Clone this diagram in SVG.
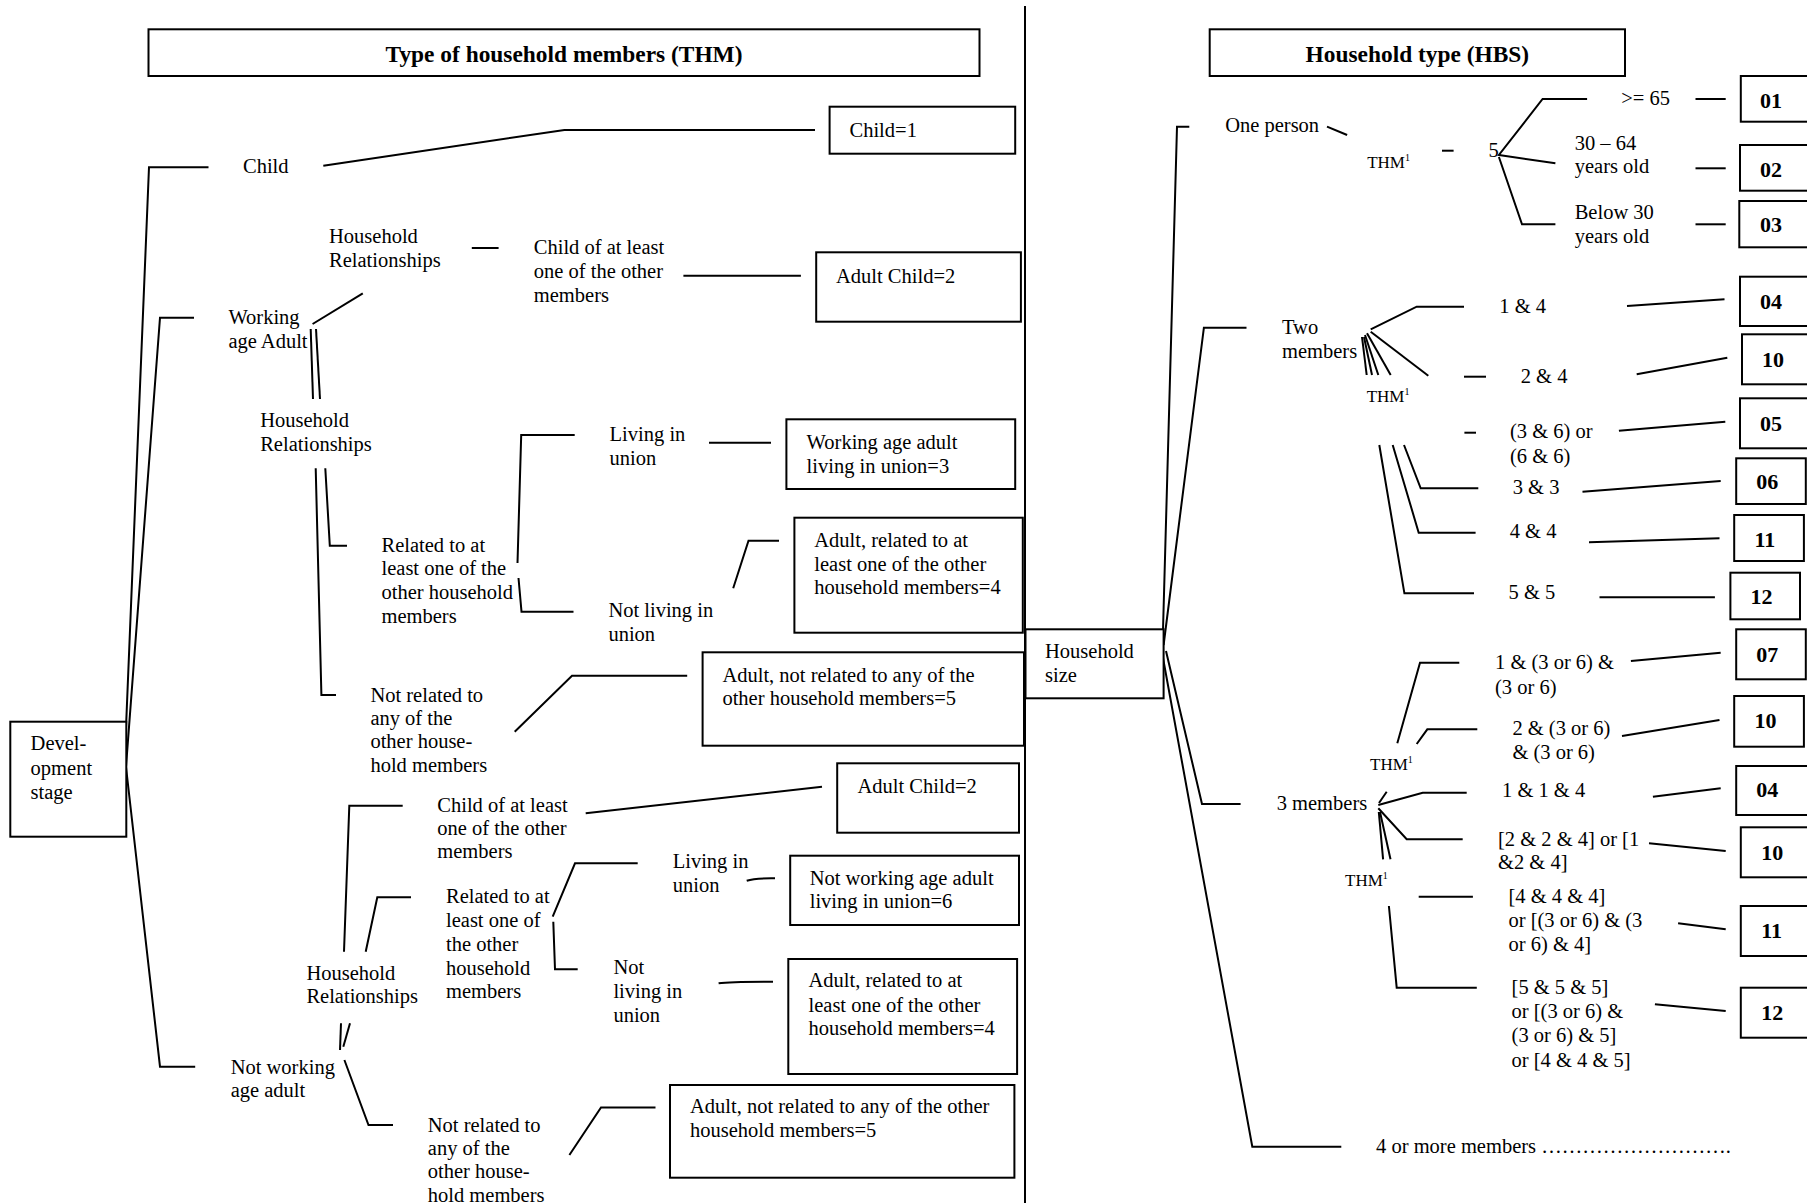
<svg xmlns="http://www.w3.org/2000/svg" width="1807" height="1203" viewBox="0 0 1807 1203">
<style>
text{font-family:"Liberation Serif","Times New Roman",serif;font-size:20.5px;fill:#000}
.b{font-weight:bold;font-size:22px}
.h{font-weight:bold;font-size:23.4px}
.s{font-size:17px}
.sup{font-size:10px}
.bx{fill:#fff;stroke:#000;stroke-width:2}
.ln{fill:none;stroke:#000;stroke-width:2}
</style>
<rect width="1807" height="1203" fill="#fff"/>
<g id="connectors" class="ln">
<polyline points="208.5,167.3 149,167.3 124.4,766.7"/>
<polyline points="194,317.7 160,317.7 126,766.7"/>
<polyline points="126,767 160,1066.7 195.2,1066.7"/>
<polyline points="323.3,165.7 564.4,130 815,130"/>
<polyline points="312.6,324 362.8,293.3"/>
<polyline points="310.7,329 313,399"/>
<polyline points="316,329 320,399"/>
<polyline points="471.8,248 498.6,248"/>
<polyline points="683.4,275.7 800.9,275.7"/>
<polyline points="315.7,468.3 321.4,695 336,695"/>
<polyline points="325.3,468.3 329.8,545.7 347,545.7"/>
<polyline points="574.7,435 521.2,435 517.5,563"/>
<polyline points="518.5,578 521.5,611.7 573.5,611.7"/>
<polyline points="709,442.7 771,442.7"/>
<polyline points="733.2,588.3 748.5,540.7 779,540.7"/>
<polyline points="514.7,731.7 572,675.7 687.2,675.7"/>
<polyline points="344,951.7 349.3,805.7 402.7,805.7"/>
<polyline points="365.7,951.7 377.3,897.3 411,897.3"/>
<polyline points="585.7,813.3 822,786.7"/>
<polyline points="552.7,916.7 575,863.3 637.7,863.3"/>
<polyline points="553.3,921.7 555,969.3 577.7,969.3"/>
<path d="M746.7,880.7 Q755,878 775,878.3"/>
<path d="M718.6,983.3 Q730,981.5 773,981.7"/>
<polyline points="340,1050 341,1023.3"/>
<polyline points="343.3,1046.7 350,1023.3"/>
<polyline points="344.4,1060 368.5,1125 393,1125"/>
<polyline points="569.4,1155 601,1107.5 655.5,1107.5"/>
<line x1="1025" y1="6" x2="1025" y2="1203"/>
<polyline points="1189.3,126.7 1177,126.7 1162.5,648"/>
<polyline points="1246.5,327.7 1203.9,327.7 1163.6,645"/>
<polyline points="1166,651 1202,804 1240.6,804"/>
<polyline points="1163,658 1252.3,1146.7 1341.3,1146.7"/>
<polyline points="1327,126.7 1347.1,135"/>
<polyline points="1442,150.7 1453.6,150.7"/>
<polyline points="1587.1,99 1542.6,99 1498.9,155 1555.4,163.3"/>
<polyline points="1498.9,157 1522,224.3 1555.4,224.3"/>
<polyline points="1695.5,99 1725.7,99"/>
<polyline points="1695.5,168.3 1725.7,168.3"/>
<polyline points="1695.5,224.3 1725.7,224.3"/>
<polyline points="1370.7,329.3 1416.7,306.7 1464,306.7"/>
<polyline points="1370.7,331.7 1428.3,375.7"/>
<polyline points="1464,376.7 1486,376.7"/>
<polyline points="1362,337 1366.7,375"/>
<polyline points="1364,337 1372,375"/>
<polyline points="1365,335 1378.3,375"/>
<polyline points="1367,333.3 1390.7,375"/>
<polyline points="1404,445 1420.7,488.3 1478.3,488.3"/>
<polyline points="1392.7,445 1418.7,532.7 1475.6,532.7"/>
<polyline points="1379.3,445 1404.4,593.3 1474,593.3"/>
<polyline points="1464.4,432.7 1476,432.7"/>
<polyline points="1627,306 1724.5,299.3"/>
<polyline points="1636.7,374.3 1727.3,357.7"/>
<polyline points="1618.9,430.7 1725.3,421.7"/>
<polyline points="1582.5,491.7 1720.7,481"/>
<polyline points="1589,542.3 1719.5,538.3"/>
<polyline points="1599.5,597.3 1714.9,597.3"/>
<polyline points="1378.3,805 1422.7,792.7 1466.7,792.7"/>
<polyline points="1378.3,808.3 1406.7,839.3 1462.7,839.3"/>
<polyline points="1379,803 1386.7,791.7"/>
<polyline points="1378.8,812 1383.1,859.3"/>
<polyline points="1380,812 1390.5,859.3"/>
<polyline points="1397.3,743.3 1420,662.7 1459.3,662.7"/>
<polyline points="1416.7,744 1427.3,729.3 1477.3,729.3"/>
<polyline points="1418.7,896.7 1472.9,896.7"/>
<polyline points="1388.9,906 1396.7,987.7 1476.8,987.7"/>
<polyline points="1630.9,661 1720.7,652.7"/>
<polyline points="1622,736 1719.5,720"/>
<polyline points="1652.9,796.7 1720.7,788.3"/>
<polyline points="1649,843.3 1725.7,851"/>
<polyline points="1678.1,923.3 1725.7,929.3"/>
<polyline points="1654.9,1004.3 1725.7,1011"/>
</g>
<g id="title-thm"><rect class="bx" x="148.5" y="29.3" width="831" height="46.7"/><text class="h" x="564" y="62" text-anchor="middle">Type of household members (THM)</text></g>
<g id="child"><text x="243" y="173">Child</text></g>
<g id="child1"><rect class="bx" x="829.6" y="106.7" width="185.6" height="47"/><text x="849.5" y="136.7">Child=1</text></g>
<g id="working"><text x="228.4" y="324">Working</text><text x="228.4" y="347.7">age Adult</text></g>
<g id="hr1"><text x="329" y="242.7">Household</text><text x="329" y="266.7">Relationships</text></g>
<g id="childof1"><text x="533.8" y="254">Child of at least</text><text x="533.8" y="278">one of the other</text><text x="533.8" y="301.7">members</text></g>
<g id="adultchild2a"><rect class="bx" x="816.2" y="252.3" width="204.7" height="69.4"/><text x="836" y="282.7">Adult Child=2</text></g>
<g id="hr2"><text x="260.2" y="426.7">Household</text><text x="260.2" y="450.7">Relationships</text></g>
<g id="related1"><text x="381.5" y="551.7">Related to at</text><text x="381.5" y="575">least one of the</text><text x="381.5" y="599">other household</text><text x="381.5" y="622.7">members</text></g>
<g id="living1"><text x="609.6" y="440.7">Living in</text><text x="609.6" y="465">union</text></g>
<g id="box3"><rect class="bx" x="786.4" y="419.3" width="228.8" height="69.7"/><text x="806.6" y="449">Working age adult</text><text x="806.6" y="472.7">living in union=3</text></g>
<g id="notliving1"><text x="608.4" y="617.3">Not living in</text><text x="608.4" y="640.7">union</text></g>
<g id="box4a"><rect class="bx" x="794.4" y="517.7" width="228.4" height="115"/><text x="814.3" y="546.7">Adult, related to at</text><text x="814.3" y="570.7">least one of the other</text><text x="814.3" y="594">household members=4</text></g>
<g id="notrelated1"><text x="370.4" y="701.7">Not related to</text><text x="370.4" y="725">any of the</text><text x="370.4" y="748.3">other house-</text><text x="370.4" y="772.3">hold members</text></g>
<g id="box5a"><rect class="bx" x="702.6" y="652.3" width="321.4" height="93.4"/><text x="722.4" y="681.7">Adult, not related to any of the</text><text x="722.4" y="705">other household members=5</text></g>
<g id="devel"><rect class="bx" x="10.3" y="721.7" width="116" height="115"/><text x="30.6" y="750">Devel-</text><text x="30.6" y="775">opment</text><text x="30.6" y="799">stage</text></g>
<g id="notworking"><text x="230.7" y="1074">Not working</text><text x="230.7" y="1097.3">age adult</text></g>
<g id="hr3"><text x="306.4" y="979.7">Household</text><text x="306.4" y="1003.3">Relationships</text></g>
<g id="childof2"><text x="437.3" y="811.7">Child of at least</text><text x="437.3" y="835">one of the other</text><text x="437.3" y="858.3">members</text></g>
<g id="adultchild2b"><rect class="bx" x="837.2" y="763.3" width="181.8" height="69.4"/><text x="857.5" y="792.7">Adult Child=2</text></g>
<g id="related2"><text x="446" y="902.7">Related to at</text><text x="446" y="926.7">least one of</text><text x="446" y="950.7">the other</text><text x="446" y="975">household</text><text x="446" y="998.3">members</text></g>
<g id="living2"><text x="672.7" y="868.3">Living in</text><text x="672.7" y="891.7">union</text></g>
<g id="box6"><rect class="bx" x="790.2" y="855.7" width="228.8" height="69.3"/><text x="809.7" y="885">Not working age adult</text><text x="809.7" y="908.3">living in union=6</text></g>
<g id="notliving2"><text x="613.4" y="974">Not</text><text x="613.4" y="998.3">living in</text><text x="613.4" y="1021.7">union</text></g>
<g id="box4b"><rect class="bx" x="788.3" y="959" width="228.8" height="115"/><text x="808.5" y="987.3">Adult, related to at</text><text x="808.5" y="1011.7">least one of the other</text><text x="808.5" y="1035">household members=4</text></g>
<g id="notrelated2"><text x="427.8" y="1131.7">Not related to</text><text x="427.8" y="1155">any of the</text><text x="427.8" y="1178.3">other house-</text><text x="427.8" y="1201.7">hold members</text></g>
<g id="box5b"><rect class="bx" x="670" y="1085" width="344.4" height="92.7"/><text x="690" y="1113.3">Adult, not related to any of the other</text><text x="690" y="1137.3">household members=5</text></g>
<g id="title-hbs"><rect class="bx" x="1209.7" y="29.3" width="415.3" height="46.7"/><text class="h" x="1417.4" y="61.7" text-anchor="middle">Household type (HBS)</text></g>
<g id="hhsize"><rect class="bx" x="1025.5" y="629.3" width="138.1" height="69"/><text x="1045" y="658.3">Household</text><text x="1045" y="681.7">size</text></g>
<g id="oneperson"><text x="1225.2" y="131.7">One person</text></g>
<g id="thm-a"><text class="s" x="1367.2" y="168.3">THM<tspan class="sup" dy="-7">1</tspan></text></g>
<g id="five"><text x="1488.4" y="156.7">5</text></g>
<g id="ge65"><text x="1621.2" y="105">&gt;= 65</text></g>
<g id="age3064"><text x="1574.7" y="150">30 – 64</text><text x="1574.7" y="173.3">years old</text></g>
<g id="below30"><text x="1574.7" y="219.3">Below 30</text><text x="1574.7" y="242.7">years old</text></g>
<g id="twomembers"><text x="1282" y="334.3">Two</text><text x="1282" y="357.7">members</text></g>
<g id="thm-b"><text class="s" x="1366.7" y="401.7">THM<tspan class="sup" dy="-7">1</tspan></text></g>
<g id="p14"><text x="1499.3" y="312.7">1 &amp; 4</text></g>
<g id="p24"><text x="1520.7" y="382.7">2 &amp; 4</text></g>
<g id="p36"><text x="1510" y="438.3">(3 &amp; 6) or</text><text x="1510" y="462.7">(6 &amp; 6)</text></g>
<g id="p33"><text x="1512.7" y="494.3">3 &amp; 3</text></g>
<g id="p44"><text x="1509.7" y="538.3">4 &amp; 4</text></g>
<g id="p55"><text x="1508.5" y="599.3">5 &amp; 5</text></g>
<g id="threemembers"><text x="1276.7" y="810">3 members</text></g>
<g id="thm-c"><text class="s" x="1370" y="770">THM<tspan class="sup" dy="-7">1</tspan></text></g>
<g id="thm-d"><text class="s" x="1345" y="886">THM<tspan class="sup" dy="-7">1</tspan></text></g>
<g id="t1"><text x="1495" y="669">1 &amp; (3 or 6) &amp;</text><text x="1495" y="693.5">(3 or 6)</text></g>
<g id="t2"><text x="1512.4" y="735">2 &amp; (3 or 6)</text><text x="1512.4" y="759">&amp; (3 or 6)</text></g>
<g id="t3"><text x="1502" y="796.7">1 &amp; 1 &amp; 4</text></g>
<g id="t4"><text x="1498" y="846">[2 &amp; 2 &amp; 4] or [1</text><text x="1498" y="869.3">&amp;2 &amp; 4]</text></g>
<g id="t5"><text x="1508.5" y="902.7">[4 &amp; 4 &amp; 4]</text><text x="1508.5" y="926.7">or [(3 or 6) &amp; (3</text><text x="1508.5" y="950.7">or 6) &amp; 4]</text></g>
<g id="t6"><text x="1511.6" y="994">[5 &amp; 5 &amp; 5]</text><text x="1511.6" y="1018.3">or [(3 or 6) &amp;</text><text x="1511.6" y="1042.3">(3 or 6) &amp; 5]</text><text x="1511.6" y="1066.7">or [4 &amp; 4 &amp; 5]</text></g>
<g id="fourmore"><text x="1376.1" y="1152.7">4 or more members ……………………….</text></g>
<g id="c01"><rect class="bx" x="1740.8" y="76" width="72" height="45.7"/><text class="b" x="1760" y="108.3">01</text></g>
<g id="c02"><rect class="bx" x="1740" y="145" width="72" height="45.7"/><text class="b" x="1760" y="176.7">02</text></g>
<g id="c03"><rect class="bx" x="1739.3" y="201" width="72" height="46.3"/><text class="b" x="1760" y="232.3">03</text></g>
<g id="c04a"><rect class="bx" x="1740" y="276.7" width="72" height="49.3"/><text class="b" x="1760" y="309.3">04</text></g>
<g id="c10a"><rect class="bx" x="1742" y="334.3" width="72" height="50"/><text class="b" x="1762" y="366.7">10</text></g>
<g id="c05"><rect class="bx" x="1740" y="398.3" width="72" height="50"/><text class="b" x="1760" y="430.7">05</text></g>
<g id="c06"><rect class="bx" x="1736.2" y="458.3" width="69.6" height="45.7"/><text class="b" x="1756.3" y="489.3">06</text></g>
<g id="c11a"><rect class="bx" x="1734.2" y="515" width="69.7" height="46"/><text class="b" x="1754.4" y="546.7">11</text></g>
<g id="c12a"><rect class="bx" x="1730.4" y="572.7" width="69.6" height="46.6"/><text class="b" x="1750.5" y="604">12</text></g>
<g id="c07"><rect class="bx" x="1736.2" y="629.3" width="69.6" height="50"/><text class="b" x="1756.3" y="661.7">07</text></g>
<g id="c10b"><rect class="bx" x="1734.2" y="696" width="69.7" height="50.7"/><text class="b" x="1754.4" y="728.3">10</text></g>
<g id="c04b"><rect class="bx" x="1736.2" y="766" width="76" height="49"/><text class="b" x="1756.3" y="796.7">04</text></g>
<g id="c10c"><rect class="bx" x="1740.8" y="827.3" width="72" height="50"/><text class="b" x="1761.3" y="860">10</text></g>
<g id="c11b"><rect class="bx" x="1740.8" y="906" width="72" height="50"/><text class="b" x="1761.3" y="938.3">11</text></g>
<g id="c12b"><rect class="bx" x="1740.8" y="987.7" width="72" height="50"/><text class="b" x="1761.3" y="1020">12</text></g>
</svg>
